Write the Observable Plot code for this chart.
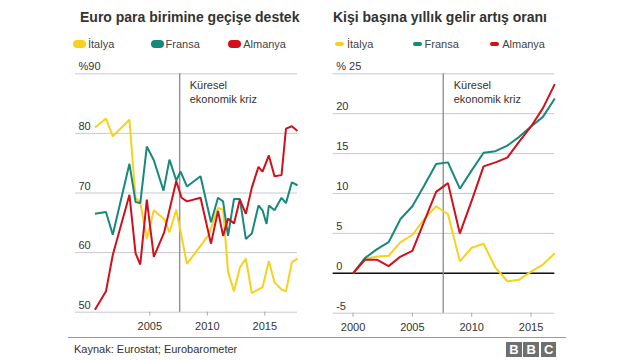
<!DOCTYPE html>
<html>
<head>
<meta charset="utf-8">
<script src="https://cdn.jsdelivr.net/npm/d3@7"></script>
<script src="https://cdn.jsdelivr.net/npm/@observablehq/plot@0.6"></script>
<style>
  body { margin: 0; background: #fff; font-family: "Liberation Sans", Arial, Helvetica, sans-serif; }
  #root { position: relative; width: 640px; height: 360px; overflow: hidden; background: #fff; }
  .abs { position: absolute; }
  .title { font-weight: bold; font-size: 14px; color: #333; white-space: nowrap; line-height: 14px; }
  .legend { display: flex; font-size: 11px; color: #444; line-height: 12px; }
  .legitem { display: flex; align-items: center; white-space: nowrap; width: 77.6px; }
  .sw-fill { width: 13px; height: 8px; border-radius: 4px; margin-right: 2px; }
  .sw-line { width: 9px; height: 4px; border-radius: 2px; margin-right: 3px; }
  .source { font-size: 11px; color: #333; white-space: nowrap; line-height: 12px; }
  .bbc { display: flex; gap: 1.7px; }
  .bbc div { width: 15.7px; height: 15px; background: #6f6f6f; color: #fff; font-weight: bold;
             font-size: 13px; line-height: 15px; text-align: center; }
</style>
</head>
<body>
<div id="root"></div>
<script>
// ---------- data ----------
const seriesNames = ["İtalya", "Fransa", "Almanya"];
const seriesColors = ["#f7d21c", "#17897a", "#d0101b"];

// Left panel: support for the euro (%), [year, value]
const italySupport = [
  [2000.23, 81.0], [2001.19, 82.5], [2001.78, 79.5], [2003.23, 82.3], [2003.76, 69.2],
  [2004.17, 68.4], [2004.74, 62.3], [2005.35, 67.1], [2006.25, 65.6], [2006.71, 63.4],
  [2007.30, 67.2], [2008.23, 58.1], [2010.13, 63.0], [2010.93, 67.5], [2011.37, 67.2],
  [2011.80, 56.8], [2012.32, 53.5], [2012.83, 57.5], [2013.35, 59.0], [2013.87, 53.2],
  [2014.80, 54.2], [2015.35, 58.6], [2015.84, 55.0], [2016.45, 53.8], [2016.84, 53.5],
  [2017.35, 58.4], [2017.84, 59.0]
];
const franceSupport = [
  [2000.23, 66.5], [2001.19, 66.8], [2001.78, 63.0], [2003.23, 74.9], [2003.76, 68.5],
  [2004.17, 68.3], [2004.74, 77.8], [2005.35, 75.5], [2006.19, 70.4], [2006.71, 75.6],
  [2007.30, 72.1], [2007.67, 73.6], [2008.23, 71.1], [2009.41, 72.8], [2010.32, 65.1],
  [2010.93, 69.2], [2011.37, 68.6], [2011.80, 62.8], [2012.32, 69.0], [2012.83, 69.0],
  [2013.35, 62.3], [2013.87, 63.2], [2014.45, 67.9], [2014.80, 67.1], [2015.15, 64.8],
  [2015.35, 67.9], [2015.84, 67.1], [2016.45, 69.2], [2016.84, 68.3], [2017.35, 71.8],
  [2017.84, 71.3]
];
const germanySupport = [
  [2000.23, 50.4], [2001.19, 53.5], [2001.78, 59.6], [2003.23, 69.7], [2003.76, 59.9],
  [2004.17, 58.0], [2004.74, 68.9], [2005.35, 59.3], [2006.25, 63.4], [2007.30, 72.0],
  [2007.76, 69.2], [2008.23, 68.6], [2009.41, 69.2], [2010.32, 61.5], [2010.93, 67.0],
  [2011.37, 62.8], [2011.80, 65.7], [2012.32, 64.9], [2012.83, 68.9], [2013.35, 66.5],
  [2013.87, 70.9], [2014.45, 74.4], [2014.80, 73.6], [2015.35, 76.3], [2015.84, 72.8],
  [2016.45, 73.0], [2016.84, 80.8], [2017.35, 81.2], [2017.84, 80.4]
];

// Right panel: cumulative per-capita income growth (%)
const incomeYears   = [2000, 2001, 2002, 2003, 2004, 2005, 2006, 2007, 2008, 2009, 2010, 2011, 2012, 2013, 2014, 2015, 2016, 2017];
const incomeItaly   = [0, 1.8, 2.1, 2.2, 3.9, 4.8, 6.8, 8.4, 7.4, 1.5, 3.2, 3.7, 0.7, -1.0, -0.8, 0.2, 1.1, 2.5];
const incomeFrance  = [0, 1.9, 3.0, 3.9, 6.8, 8.4, 11.0, 13.7, 13.9, 10.6, 12.9, 15.1, 15.3, 16.0, 17.1, 18.4, 19.6, 21.9];
const incomeGermany = [0, 1.7, 1.7, 0.9, 2.1, 2.8, 6.5, 10.2, 11.3, 5.0, 9.1, 13.4, 13.9, 14.5, 16.5, 18.4, 20.7, 23.7];

const supportTicks = [50, 60, 70, 80, 90];
const supportXTicks = [2005, 2010, 2015];
const incomeTicks = [-5, 0, 5, 10, 15, 20, 25];
const incomeXTicks = [2000, 2005, 2010, 2015];

const crisisYear = 2007.6;
const crisisLabel = "Küresel\nekonomik kriz";
const titles = ["Euro para birimine geçişe destek", "Kişi başına yıllık gelir artış oranı"];
const sourceText = "Kaynak: Eurostat; Eurobarometer";

// ---------- layout ----------
const root = document.getElementById("root");
const FONT = '"Liberation Sans", Arial, Helvetica, sans-serif';

function addDiv(cls, left, top, html) {
  const d = document.createElement("div");
  d.className = "abs " + cls;
  d.style.left = left + "px";
  d.style.top = top + "px";
  if (html != null) d.innerHTML = html;
  root.appendChild(d);
  return d;
}

addDiv("title", 80, 10, titles[0]);
addDiv("title", 333, 10, titles[1]);

function legend(left, filled) {
  const lg = addDiv("legend", left, 38);
  seriesNames.forEach((n, i) => {
    const it = document.createElement("div");
    it.className = "legitem";
    const sw = document.createElement("span");
    sw.className = filled ? "sw-fill" : "sw-line";
    sw.style.background = seriesColors[i];
    it.appendChild(sw);
    const t = document.createElement("span");
    t.textContent = n;
    it.appendChild(t);
    lg.appendChild(it);
  });
}
legend(73, true);
legend(335, false);

const lineStyle = { strokeWidth: 2, strokeLinejoin: "miter", strokeLinecap: "butt" };

// Left chart
const left = Plot.plot({
  width: 320, height: 360,
  marginLeft: 75, marginRight: 23, marginTop: 73.3, marginBottom: 48.3,
  style: { fontFamily: FONT, fontSize: "11px", color: "#333", background: "transparent", overflow: "visible" },
  x: { domain: [1998.54, 2017.84] },
  y: { domain: [50, 90] },
  marks: [
    Plot.gridY(supportTicks, { stroke: "#c9c9c9", strokeOpacity: 1, strokeWidth: 1 }),
    Plot.axisY(supportTicks, { anchor: "left", tickSize: 0, tickPadding: 0, dx: 3, dy: -7, textAnchor: "start", label: null,
      tickFormat: d => d === 90 ? "%90" : String(d) }),
    Plot.axisX(supportXTicks, { anchor: "bottom", tickSize: 4, tickPadding: 6, label: null, stroke: "#aaa",
      tickFormat: d => String(d) }),
    Plot.ruleX([crisisYear], { stroke: "#8a8a8a", strokeWidth: 1.3 }),
    Plot.text([crisisLabel], { x: crisisYear, y: 90, text: d => d, dx: 10, dy: 5, textAnchor: "start",
      lineAnchor: "top", lineHeight: 1.27, fill: "#333" }),
    Plot.line(italySupport, { x: d => d[0], y: d => d[1], stroke: seriesColors[0], ...lineStyle }),
    Plot.line(franceSupport, { x: d => d[0], y: d => d[1], stroke: seriesColors[1], ...lineStyle }),
    Plot.line(germanySupport, { x: d => d[0], y: d => d[1], stroke: seriesColors[2], ...lineStyle })
  ]
});
left.style.position = "absolute";
left.style.left = "0px";
left.style.top = "0px";
root.appendChild(left);

// Right chart
const incomeRows = (vals) => incomeYears.map((y, i) => [y, vals[i]]);
const right = Plot.plot({
  width: 320, height: 360,
  marginLeft: 12.7, marginRight: 85.7, marginTop: 73.3, marginBottom: 47.3,
  style: { fontFamily: FONT, fontSize: "11px", color: "#333", background: "transparent", overflow: "visible" },
  x: { domain: [1998.33, 2017] },
  y: { domain: [-5, 25] },
  marks: [
    Plot.gridY(incomeTicks, { stroke: "#c9c9c9", strokeOpacity: 1, strokeWidth: 1 }),
    Plot.axisY(incomeTicks, { anchor: "left", tickSize: 0, tickPadding: 0, dx: 3, dy: -7, textAnchor: "start", label: null,
      tickFormat: d => d === 25 ? "% 25" : (d < 0 ? "-" + Math.abs(d) : String(d)) }),
    Plot.axisX(incomeXTicks, { anchor: "bottom", tickSize: 4, tickPadding: 6, label: null, stroke: "#aaa",
      tickFormat: d => String(d) }),
    Plot.ruleY([0], { stroke: "#111", strokeWidth: 1.6 }),
    Plot.ruleX([crisisYear], { stroke: "#8a8a8a", strokeWidth: 1.3 }),
    Plot.text([crisisLabel], { x: crisisYear, y: 25, text: d => d, dx: 10.5, dy: 5, textAnchor: "start",
      lineAnchor: "top", lineHeight: 1.27, fill: "#333" }),
    Plot.line(incomeRows(incomeItaly), { x: d => d[0], y: d => d[1], stroke: seriesColors[0], ...lineStyle }),
    Plot.line(incomeRows(incomeFrance), { x: d => d[0], y: d => d[1], stroke: seriesColors[1], ...lineStyle }),
    Plot.line(incomeRows(incomeGermany), { x: d => d[0], y: d => d[1], stroke: seriesColors[2], ...lineStyle })
  ]
});
right.style.position = "absolute";
right.style.left = "320px";
right.style.top = "0px";
root.appendChild(right);

// Footer
const sep = addDiv("", 68, 336.5);
sep.style.width = "498px";
sep.style.height = "1.5px";
sep.style.background = "#9a9a9a";
addDiv("source", 74, 343, sourceText);
const bbc = addDiv("bbc", 506, 341.7);
["B", "B", "C"].forEach(ch => {
  const b = document.createElement("div");
  b.textContent = ch;
  bbc.appendChild(b);
});
</script>
</body>
</html>
